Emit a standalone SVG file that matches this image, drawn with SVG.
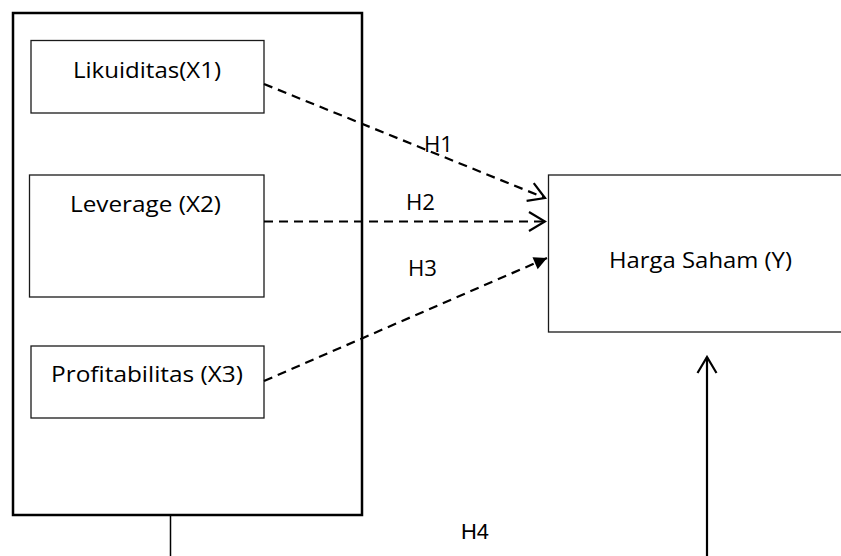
<svg xmlns="http://www.w3.org/2000/svg" width="841" height="556" viewBox="0 0 841 556">
  <defs>
    <style>
      .box { fill: #fff; stroke: #1a1a1a; stroke-width: 1.3; }
      .frame { fill: none; stroke: #000; stroke-width: 2.5; }
      .lbl { font-family: "Open Sans", "Noto Sans", sans-serif; font-size: 22.5px; fill: #000; }
      .h4 { font-family: "Liberation Sans", Arial, sans-serif; font-size: 22px; fill: #000; }
      .dash { fill: none; stroke: #000; stroke-width: 2.2; stroke-dasharray: 9 6; }
      .solid { fill: none; stroke: #000; }
    </style>
    <marker id="open" markerUnits="userSpaceOnUse" viewBox="-20 -12 22 24" refX="0" refY="0" markerWidth="22" markerHeight="24" orient="auto">
      <path d="M-16,-9.5 L0,0 L-16,9.5" fill="none" stroke="#000" stroke-width="2.2"/>
    </marker>
    <marker id="solidhead" markerUnits="userSpaceOnUse" viewBox="-14 -8 16 16" refX="0" refY="0" markerWidth="16" markerHeight="16" orient="auto">
      <path d="M-13,-6.5 L0,0 L-13,6.5 Z" fill="#000"/>
    </marker>
  </defs>

  <rect width="841" height="556" fill="#fff"/>

  <!-- independent variables frame -->
  <g id="frame-x">
    <rect class="frame" x="13" y="13" width="349" height="502"/>
  </g>

  <g id="node-x1">
    <rect class="box" x="31" y="40.5" width="233" height="72.5"/>
    <text class="lbl" x="73" y="78" textLength="148" lengthAdjust="spacingAndGlyphs">Likuiditas(X1)</text>
  </g>

  <g id="node-x2">
    <rect class="box" x="29.5" y="175" width="234.5" height="122"/>
    <text class="lbl" x="70" y="212" textLength="151" lengthAdjust="spacingAndGlyphs">Leverage (X2)</text>
  </g>

  <g id="node-x3">
    <rect class="box" x="31" y="346" width="233" height="72"/>
    <text class="lbl" x="51" y="382" textLength="192" lengthAdjust="spacingAndGlyphs">Profitabilitas (X3)</text>
  </g>

  <g id="node-y">
    <rect class="box" x="548.5" y="175" width="310" height="157"/>
    <text class="lbl" x="609" y="268" textLength="183" lengthAdjust="spacingAndGlyphs">Harga Saham (Y)</text>
  </g>

  <!-- hypothesis paths -->
  <g id="connectors">
    <line class="dash" x1="264" y1="84" x2="545" y2="198" marker-end="url(#open)"/>
    <line class="dash" x1="264" y1="221.5" x2="545" y2="221.5" marker-end="url(#open)"/>
    <line class="dash" x1="264" y1="381" x2="547" y2="258" marker-end="url(#solidhead)"/>
    <line class="solid" stroke-width="1.5" x1="170.5" y1="515" x2="170.5" y2="556"/>
    <line class="solid" stroke-width="2.2" x1="707" y1="556" x2="707" y2="357" marker-end="url(#open)"/>
  </g>

  <g id="labels">
    <text class="lbl" x="424" y="152" textLength="29" lengthAdjust="spacingAndGlyphs">H1</text>
    <text class="lbl" x="406" y="210" textLength="29" lengthAdjust="spacingAndGlyphs">H2</text>
    <text class="lbl" x="408" y="276" textLength="29" lengthAdjust="spacingAndGlyphs">H3</text>
    <text class="h4" x="461" y="539" textLength="28" lengthAdjust="spacingAndGlyphs">H4</text>
  </g>
</svg>
